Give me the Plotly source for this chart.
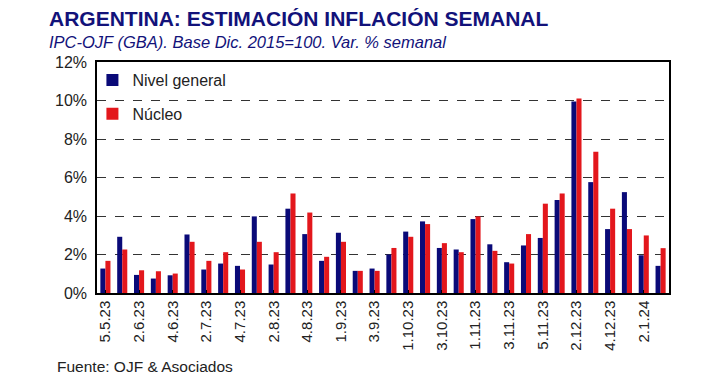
import plotly.graph_objects as go

categories = ["5.5.23", "1.6.23", "2.6.23", "3.6.23", "4.6.23", "1.7.23", "2.7.23", "3.7.23",
              "4.7.23", "1.8.23", "2.8.23", "3.8.23", "4.8.23", "5.8.23", "1.9.23", "2.9.23",
              "3.9.23", "4.9.23", "1.10.23", "2.10.23", "3.10.23", "4.10.23", "1.11.23", "2.11.23",
              "3.11.23", "4.11.23", "5.11.23", "1.12.23", "2.12.23", "3.12.23", "4.12.23", "1.1.24",
              "2.1.24", "3.1.24"]

nivel_general = [1.27, 2.92, 0.94, 0.75, 0.92, 3.04, 1.22, 1.53, 1.41, 3.98, 1.48, 4.38, 3.06, 1.67,
                 3.13, 1.15, 1.27, 2.00, 3.19, 3.72, 2.34, 2.26, 3.84, 2.53, 1.60, 2.47, 2.86, 4.83,
                 9.95, 5.76, 3.32, 5.24, 1.96, 1.41]

nucleo = [1.67, 2.26, 1.18, 1.13, 1.01, 2.66, 1.67, 2.12, 1.22, 2.66, 2.12, 5.17, 4.18, 1.88,
          2.66, 1.15, 1.15, 2.34, 2.92, 3.58, 2.59, 2.12, 3.98, 2.19, 1.53, 3.06, 4.64, 5.17,
          10.10, 7.34, 4.38, 3.32, 2.99, 2.33]

tick_labels = categories[::2]

BLUE = "#0A0A78"
RED = "#E3171C"
FONT = "Liberation Sans, Arial, sans-serif"

fig = go.Figure()
fig.add_trace(go.Bar(x=categories, y=nivel_general, name="Nivel general",
                     marker=dict(color=BLUE, line=dict(width=0)), legendgroup="a"))
fig.add_trace(go.Bar(x=categories, y=nucleo, name="Núcleo",
                     marker=dict(color=RED, line=dict(width=0)), legendgroup="b"))

fig.update_layout(
    width=705, height=380,
    margin=dict(l=89, r=44, t=54, b=95),
    paper_bgcolor="white", plot_bgcolor="white",
    barmode="group", bargap=0.4, bargroupgap=0,
    font=dict(family=FONT, color="#222222"),
    showlegend=True,
    legend=dict(x=-0.008, y=0.995, xanchor="left", yanchor="top",
                bgcolor="rgba(0,0,0,0)", font=dict(size=16, color="#222222"),
                tracegroupgap=10, traceorder="grouped", itemwidth=30),
)

fig.update_xaxes(
    type="category", tickmode="array", tickvals=tick_labels, ticktext=tick_labels,
    tickangle=-90, tickfont=dict(size=15, color="#222222"),
    showline=True, linecolor="black", linewidth=1.5, mirror=True,
    ticks="inside", ticklen=3, tickcolor="black", showgrid=False,
)
fig.update_yaxes(
    range=[0, 12], dtick=2, ticksuffix="%", tickfont=dict(size=16, color="#222222"),
    showline=True, linecolor="black", linewidth=1.5, mirror=True,
    showgrid=True, gridcolor="#333333", griddash="dash", gridwidth=1,
    zeroline=False, ticks="", ticklabelstandoff=5,
)

fig.add_annotation(text="<b>ARGENTINA: ESTIMACIÓN INFLACIÓN SEMANAL</b>",
                   xref="paper", yref="paper", x=-0.087, y=1.0, yshift=54 - 10,
                   xanchor="left", yanchor="middle", showarrow=False,
                   font=dict(size=21, color="#12127A", family=FONT))
fig.add_annotation(text="<i>IPC-OJF (GBA). Base Dic. 2015=100. Var. % semanal</i>",
                   xref="paper", yref="paper", x=-0.087, y=1.0, yshift=54 - 34,
                   xanchor="left", yanchor="middle", showarrow=False,
                   font=dict(size=16.5, color="#12127A", family=FONT))
fig.add_annotation(text="Fuente: OJF & Asociados",
                   xref="paper", yref="paper", x=-0.074, y=0, yshift=-(366 - 293),
                   xanchor="left", yanchor="middle", showarrow=False,
                   font=dict(size=15.5, color="#222222", family=FONT))

fig.write_html("out.html")
